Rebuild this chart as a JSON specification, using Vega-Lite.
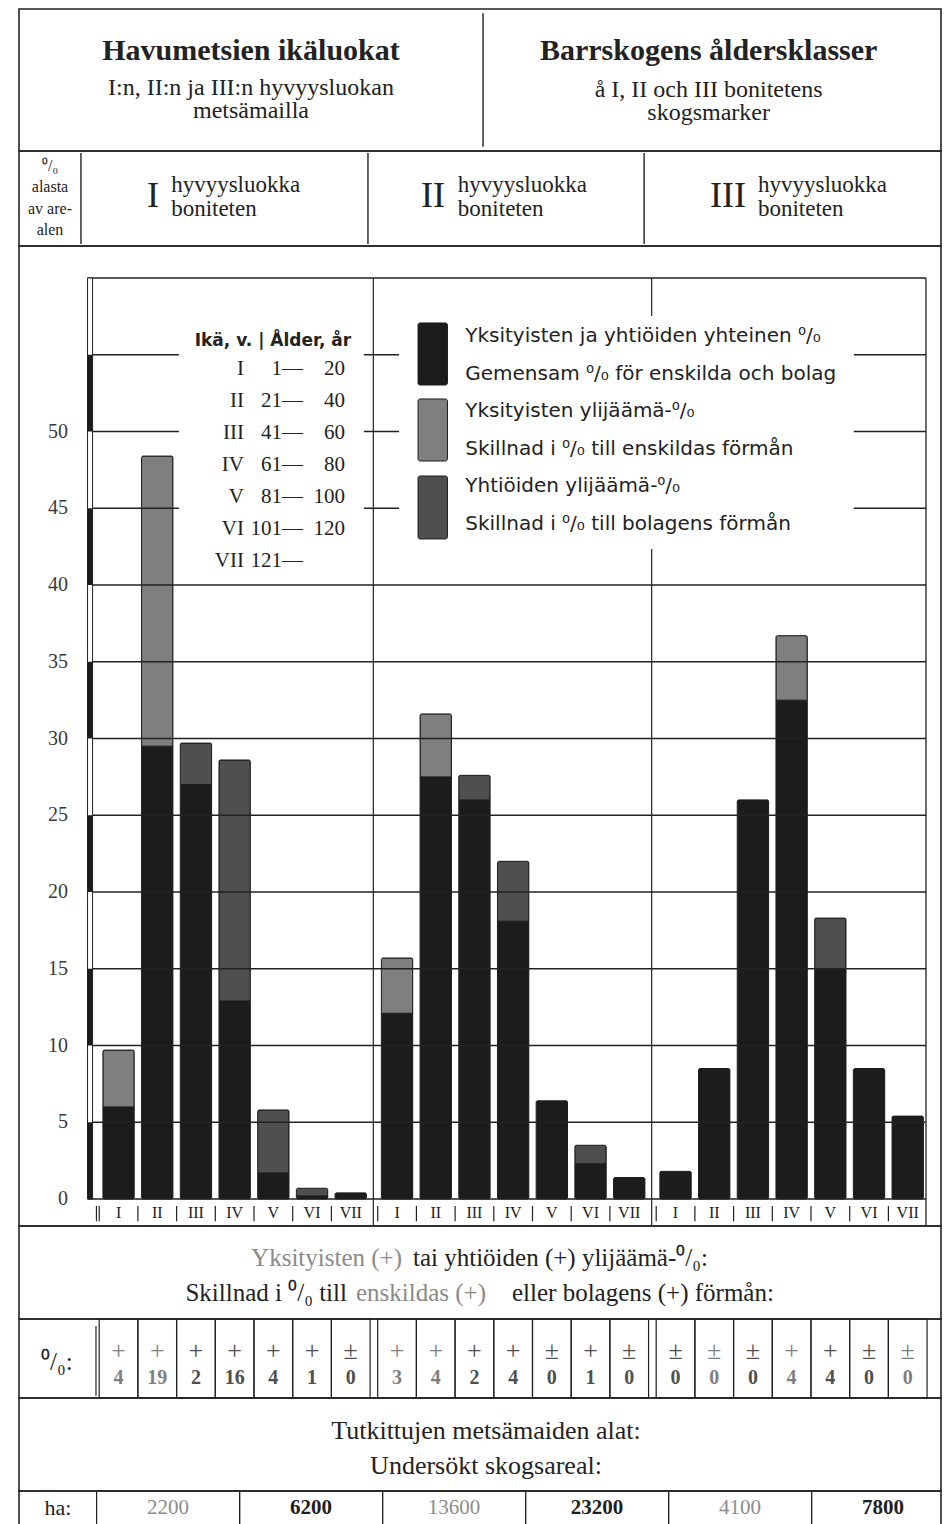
{
  "$schema": "https://vega.github.io/schema/vega-lite/v6.json",
  "background": "#ffffff",
  "padding": {"left": 18, "top": 8, "right": 9, "bottom": 0},
  "spacing": 0,
  "bounds": "flush",
  "data": {"values": [{}]},
  "config": {
    "view": {"stroke": "#222222", "strokeWidth": 1.6},
    "text": {"font": "Liberation Serif", "fill": "#222222"}
  },
  "datasets": {
    "bars": [
      {"grp": "I", "cls": "I", "part": "common", "pct": 6.0},
      {"grp": "I", "cls": "I", "part": "private", "pct": 3.7},
      {"grp": "I", "cls": "II", "part": "common", "pct": 29.5},
      {"grp": "I", "cls": "II", "part": "private", "pct": 18.9},
      {"grp": "I", "cls": "III", "part": "common", "pct": 27.0},
      {"grp": "I", "cls": "III", "part": "company", "pct": 2.7},
      {"grp": "I", "cls": "IV", "part": "common", "pct": 12.9},
      {"grp": "I", "cls": "IV", "part": "company", "pct": 15.7},
      {"grp": "I", "cls": "V", "part": "common", "pct": 1.7},
      {"grp": "I", "cls": "V", "part": "company", "pct": 4.1},
      {"grp": "I", "cls": "VI", "part": "common", "pct": 0.2},
      {"grp": "I", "cls": "VI", "part": "company", "pct": 0.5},
      {"grp": "I", "cls": "VII", "part": "common", "pct": 0.4},
      {"grp": "II", "cls": "I", "part": "common", "pct": 12.1},
      {"grp": "II", "cls": "I", "part": "private", "pct": 3.6},
      {"grp": "II", "cls": "II", "part": "common", "pct": 27.5},
      {"grp": "II", "cls": "II", "part": "private", "pct": 4.1},
      {"grp": "II", "cls": "III", "part": "common", "pct": 26.0},
      {"grp": "II", "cls": "III", "part": "company", "pct": 1.6},
      {"grp": "II", "cls": "IV", "part": "common", "pct": 18.1},
      {"grp": "II", "cls": "IV", "part": "company", "pct": 3.9},
      {"grp": "II", "cls": "V", "part": "common", "pct": 6.4},
      {"grp": "II", "cls": "VI", "part": "common", "pct": 2.3},
      {"grp": "II", "cls": "VI", "part": "company", "pct": 1.2},
      {"grp": "II", "cls": "VII", "part": "common", "pct": 1.4},
      {"grp": "III", "cls": "I", "part": "common", "pct": 1.8},
      {"grp": "III", "cls": "II", "part": "common", "pct": 8.5},
      {"grp": "III", "cls": "III", "part": "common", "pct": 26.0},
      {"grp": "III", "cls": "IV", "part": "common", "pct": 32.5},
      {"grp": "III", "cls": "IV", "part": "private", "pct": 4.2},
      {"grp": "III", "cls": "V", "part": "common", "pct": 15.0},
      {"grp": "III", "cls": "V", "part": "company", "pct": 3.3},
      {"grp": "III", "cls": "VI", "part": "common", "pct": 8.5},
      {"grp": "III", "cls": "VII", "part": "common", "pct": 5.4}
    ],
    "diffs": [
      {"grp": "I", "cls": "I", "sign": "+", "diff": 4, "owner": "private"},
      {"grp": "I", "cls": "II", "sign": "+", "diff": 19, "owner": "private"},
      {"grp": "I", "cls": "III", "sign": "+", "diff": 2, "owner": "company"},
      {"grp": "I", "cls": "IV", "sign": "+", "diff": 16, "owner": "company"},
      {"grp": "I", "cls": "V", "sign": "+", "diff": 4, "owner": "company"},
      {"grp": "I", "cls": "VI", "sign": "+", "diff": 1, "owner": "company"},
      {"grp": "I", "cls": "VII", "sign": "±", "diff": 0, "owner": "company"},
      {"grp": "II", "cls": "I", "sign": "+", "diff": 3, "owner": "private"},
      {"grp": "II", "cls": "II", "sign": "+", "diff": 4, "owner": "private"},
      {"grp": "II", "cls": "III", "sign": "+", "diff": 2, "owner": "company"},
      {"grp": "II", "cls": "IV", "sign": "+", "diff": 4, "owner": "company"},
      {"grp": "II", "cls": "V", "sign": "±", "diff": 0, "owner": "company"},
      {"grp": "II", "cls": "VI", "sign": "+", "diff": 1, "owner": "company"},
      {"grp": "II", "cls": "VII", "sign": "±", "diff": 0, "owner": "company"},
      {"grp": "III", "cls": "I", "sign": "±", "diff": 0, "owner": "company"},
      {"grp": "III", "cls": "II", "sign": "±", "diff": 0, "owner": "private"},
      {"grp": "III", "cls": "III", "sign": "±", "diff": 0, "owner": "company"},
      {"grp": "III", "cls": "IV", "sign": "+", "diff": 4, "owner": "private"},
      {"grp": "III", "cls": "V", "sign": "+", "diff": 4, "owner": "company"},
      {"grp": "III", "cls": "VI", "sign": "±", "diff": 0, "owner": "company"},
      {"grp": "III", "cls": "VII", "sign": "±", "diff": 0, "owner": "private"}
    ],
    "areas": [
      {"grp": "I", "owner": "private", "ha": 2200},
      {"grp": "I", "owner": "company", "ha": 6200},
      {"grp": "II", "owner": "private", "ha": 13600},
      {"grp": "II", "owner": "company", "ha": 23200},
      {"grp": "III", "owner": "private", "ha": 4100},
      {"grp": "III", "owner": "company", "ha": 7800}
    ]
  },
  "vconcat": [
    {
      "width": 922, "height": 142,
      "layer": [
        {"mark": {"type": "rule", "stroke": "#222222", "strokeWidth": 1.4},
         "encoding": {"x": {"datum": 0.5033, "type": "quantitative", "scale": {"domain": [0, 1], "nice": false, "zero": false}, "axis": null},
                      "y": {"datum": 0.03, "type": "quantitative", "scale": {"domain": [0, 1], "nice": false, "zero": false, "reverse": true}, "axis": null},
                      "y2": {"datum": 0.97}}},
        {"mark": {"type": "text", "fontSize": 30, "fontWeight": "bold", "align": "center", "baseline": "middle"},
         "encoding": {"x": {"datum": 0.2516, "type": "quantitative"}, "y": {"datum": 0.296, "type": "quantitative"}, "text": {"value": "Havumetsien ikäluokat"}}},
        {"mark": {"type": "text", "fontSize": 30, "fontWeight": "bold", "align": "center", "baseline": "middle"},
         "encoding": {"x": {"datum": 0.748, "type": "quantitative"}, "y": {"datum": 0.296, "type": "quantitative"}, "text": {"value": "Barrskogens åldersklasser"}}},
        {"mark": {"type": "text", "fontSize": 24, "align": "center", "baseline": "middle", "lineHeight": 23},
         "encoding": {"x": {"datum": 0.2516, "type": "quantitative"}, "y": {"datum": 0.556, "type": "quantitative"}, "text": {"value": ["I:n, II:n ja III:n hyvyysluokan", "metsämailla"]}}},
        {"mark": {"type": "text", "fontSize": 24, "align": "center", "baseline": "middle", "lineHeight": 23},
         "encoding": {"x": {"datum": 0.748, "type": "quantitative"}, "y": {"datum": 0.57, "type": "quantitative"}, "text": {"value": ["å I, II och III bonitetens", "skogsmarker"]}}}
      ]
    },
    {
      "width": 922, "height": 95,
      "layer": [
        {"mark": {"type": "rule", "stroke": "#222222", "strokeWidth": 1.4},
         "encoding": {"x": {"datum": 0.0672, "type": "quantitative", "scale": {"domain": [0, 1], "nice": false, "zero": false}, "axis": null},
                      "y": {"datum": 0.02, "type": "quantitative", "scale": {"domain": [0, 1], "nice": false, "zero": false, "reverse": true}, "axis": null},
                      "y2": {"datum": 0.98}}},
        {"mark": {"type": "rule", "stroke": "#222222", "strokeWidth": 1.4},
         "encoding": {"x": {"datum": 0.3785, "type": "quantitative"}, "y": {"datum": 0.02, "type": "quantitative"}, "y2": {"datum": 0.98}}},
        {"mark": {"type": "rule", "stroke": "#222222", "strokeWidth": 1.4},
         "encoding": {"x": {"datum": 0.678, "type": "quantitative"}, "y": {"datum": 0.02, "type": "quantitative"}, "y2": {"datum": 0.98}}},
        {"mark": {"type": "text", "fontSize": 16, "align": "center", "baseline": "middle", "lineHeight": 21.3},
         "encoding": {"x": {"datum": 0.0336, "type": "quantitative"}, "y": {"datum": 0.158, "type": "quantitative"}, "text": {"value": ["⁰/₀", "alasta", "av are-", "alen"]}}},
        {"mark": {"type": "text", "fontSize": 36, "align": "center", "baseline": "middle"},
         "encoding": {"x": {"datum": 0.1453, "type": "quantitative"}, "y": {"datum": 0.474, "type": "quantitative"}, "text": {"value": "I"}}},
        {"mark": {"type": "text", "fontSize": 36, "align": "center", "baseline": "middle"},
         "encoding": {"x": {"datum": 0.449, "type": "quantitative"}, "y": {"datum": 0.474, "type": "quantitative"}, "text": {"value": "II"}}},
        {"mark": {"type": "text", "fontSize": 36, "align": "center", "baseline": "middle"},
         "encoding": {"x": {"datum": 0.769, "type": "quantitative"}, "y": {"datum": 0.474, "type": "quantitative"}, "text": {"value": "III"}}},
        {"mark": {"type": "text", "fontSize": 23, "align": "left", "baseline": "middle", "lineHeight": 24},
         "encoding": {"x": {"datum": 0.165, "type": "quantitative"}, "y": {"datum": 0.358, "type": "quantitative"}, "text": {"value": ["hyvyysluokka", "boniteten"]}}},
        {"mark": {"type": "text", "fontSize": 23, "align": "left", "baseline": "middle", "lineHeight": 24},
         "encoding": {"x": {"datum": 0.476, "type": "quantitative"}, "y": {"datum": 0.358, "type": "quantitative"}, "text": {"value": ["hyvyysluokka", "boniteten"]}}},
        {"mark": {"type": "text", "fontSize": 23, "align": "left", "baseline": "middle", "lineHeight": 24},
         "encoding": {"x": {"datum": 0.8015, "type": "quantitative"}, "y": {"datum": 0.358, "type": "quantitative"}, "text": {"value": ["hyvyysluokka", "boniteten"]}}}
      ]
    },
    {
      "width": 922, "height": 980,
      "resolve": {"scale": {"x": "independent", "xOffset": "independent"}},
      "layer": [
        {"data": {"name": "bars"},
         "mark": {"type": "bar", "stroke": "#1c1c1c", "strokeWidth": 1, "cornerRadius": 1.5},
         "encoding": {
           "x": {"field": "grp", "type": "nominal", "scale": {"type": "band", "domain": ["I", "II", "III"], "paddingInner": 0.0273, "paddingOuter": 0.169, "align": 0.852}, "axis": null},
           "xOffset": {"field": "cls", "type": "nominal", "scale": {"type": "band", "domain": ["I", "II", "III", "IV", "V", "VI", "VII"], "paddingInner": 0.19, "paddingOuter": 0.095}},
           "y": {"field": "pct", "type": "quantitative", "stack": "zero", "scale": {"domain": [-1.759, 62.085], "nice": false, "zero": false}, "axis": null},
           "color": {"field": "part", "type": "nominal", "scale": {"domain": ["common", "private", "company"], "range": ["#1c1c1c", "#7f7f7f", "#4f4f4f"]}, "legend": null},
           "order": {"field": "part", "sort": "ascending"}
         }},
        {"data": {"values": [{"v": 0}, {"v": 5}, {"v": 10}, {"v": 15}, {"v": 20}, {"v": 25}, {"v": 30}, {"v": 35}, {"v": 40}, {"v": 45}, {"v": 50}, {"v": 55}, {"v": 60}]},
         "mark": {"type": "rule", "stroke": "#222222", "strokeWidth": 1.3},
         "encoding": {"x": {"datum": 0.04, "type": "quantitative", "scale": {"domain": [-1.731, 22.093], "nice": false, "zero": false}, "axis": null},
                      "x2": {"datum": 21.705},
                      "y": {"field": "v", "type": "quantitative", "scale": {"domain": [-1.759, 62.085], "nice": false, "zero": false}, "axis": null}}},
        {"mark": {"type": "rule", "stroke": "#222222", "strokeWidth": 1.2},
         "encoding": {"x": {"datum": 7.424, "type": "quantitative", "scale": {"domain": [-1.731, 22.093], "nice": false, "zero": false}, "axis": null},
                      "y": {"datum": -1.759, "type": "quantitative"}, "y2": {"datum": 60}}},
        {"mark": {"type": "rule", "stroke": "#222222", "strokeWidth": 1.2},
         "encoding": {"x": {"datum": 14.617, "type": "quantitative", "scale": {"domain": [-1.731, 22.093], "nice": false, "zero": false}, "axis": null},
                      "y": {"datum": -1.759, "type": "quantitative"}, "y2": {"datum": 60}}},
        {"mark": {"type": "rule", "stroke": "#222222", "strokeWidth": 1.3},
         "encoding": {"x": {"datum": 21.705, "type": "quantitative", "scale": {"domain": [-1.731, 22.093], "nice": false, "zero": false}, "axis": null},
                      "y": {"datum": -1.759, "type": "quantitative"}, "y2": {"datum": 60}}},
        {"mark": {"type": "rule", "stroke": "#222222", "strokeWidth": 1.2},
         "encoding": {"x": {"datum": 0.27, "type": "quantitative", "scale": {"domain": [-1.731, 22.093], "nice": false, "zero": false}, "axis": null},
                      "y": {"datum": -0.45, "type": "quantitative"}, "y2": {"datum": -1.45}}},
        {"mark": {"type": "rect", "fill": "#ffffff"},
         "encoding": {"x": {"datum": 2.4, "type": "quantitative", "scale": {"domain": [-1.731, 22.093], "nice": false, "zero": false}, "axis": null},
                      "x2": {"datum": 7.18},
                      "y": {"datum": 57.33, "type": "quantitative"}, "y2": {"datum": 40.59}}},
        {"mark": {"type": "rect", "fill": "#ffffff"},
         "encoding": {"x": {"datum": 8.09, "type": "quantitative", "scale": {"domain": [-1.731, 22.093], "nice": false, "zero": false}, "axis": null},
                      "x2": {"datum": 19.84},
                      "y": {"datum": 57.52, "type": "quantitative"}, "y2": {"datum": 42.35}}},
        {"mark": {"type": "rect", "fill": "#ffffff", "stroke": "#222222", "strokeWidth": 1},
         "encoding": {"x": {"datum": 0.04, "type": "quantitative", "scale": {"domain": [-1.731, 22.093], "nice": false, "zero": false}, "axis": null},
                      "x2": {"datum": 0.17},
                      "y": {"datum": 0, "type": "quantitative"}, "y2": {"datum": 60}}},
        {"data": {"values": [{"lo": 0, "hi": 5}, {"lo": 10, "hi": 15}, {"lo": 20, "hi": 25}, {"lo": 30, "hi": 35}, {"lo": 40, "hi": 45}, {"lo": 50, "hi": 55}]},
         "mark": {"type": "rect", "fill": "#1c1c1c"},
         "encoding": {"x": {"datum": 0.04, "type": "quantitative", "scale": {"domain": [-1.731, 22.093], "nice": false, "zero": false}, "axis": null},
                      "x2": {"datum": 0.17},
                      "y": {"field": "lo", "type": "quantitative"}, "y2": {"field": "hi"}}},
        {"data": {"values": [{"v": 0}, {"v": 5}, {"v": 10}, {"v": 15}, {"v": 20}, {"v": 25}, {"v": 30}, {"v": 35}, {"v": 40}, {"v": 45}, {"v": 50}]},
         "mark": {"type": "text", "fontSize": 20, "align": "right", "baseline": "middle", "fill": "#3a3a3a"},
         "encoding": {"x": {"datum": -0.465, "type": "quantitative", "scale": {"domain": [-1.731, 22.093], "nice": false, "zero": false}, "axis": null},
                      "y": {"field": "v", "type": "quantitative"},
                      "text": {"field": "v", "type": "quantitative"}}},
        {"data": {"name": "bars"},
         "transform": [{"filter": "datum.part === 'common'"}],
         "mark": {"type": "text", "fontSize": 16, "align": "center", "baseline": "middle"},
         "encoding": {
           "x": {"field": "grp", "type": "nominal", "scale": {"type": "band", "domain": ["I", "II", "III"], "paddingInner": 0.0273, "paddingOuter": 0.169, "align": 0.852}, "axis": null},
           "xOffset": {"field": "cls", "type": "nominal", "scale": {"type": "band", "domain": ["I", "II", "III", "IV", "V", "VI", "VII"], "paddingInner": 0.19, "paddingOuter": 0.095}},
           "y": {"datum": -0.93, "type": "quantitative"},
           "text": {"field": "cls", "type": "nominal"}
         }},
        {"data": {"name": "bars"},
         "transform": [{"filter": "datum.part === 'common'"}],
         "mark": {"type": "rule", "stroke": "#222222", "strokeWidth": 1.2},
         "encoding": {
           "x": {"field": "grp", "type": "nominal", "scale": {"type": "band", "domain": ["I", "II", "III"], "paddingInner": 0.0273, "paddingOuter": 0.169, "align": 0.6467}, "axis": null},
           "xOffset": {"field": "cls", "type": "nominal", "scale": {"type": "band", "domain": ["I", "II", "III", "IV", "V", "VI", "VII"], "paddingInner": 0.19, "paddingOuter": 0.095}},
           "y": {"datum": -0.45, "type": "quantitative"},
           "y2": {"datum": -1.45}
         }},
        {"mark": {"type": "text", "font": "DejaVu Sans", "fontSize": 17, "fontWeight": "bold", "align": "center", "baseline": "middle"},
         "encoding": {"x": {"datum": 4.83, "type": "quantitative", "scale": {"domain": [-1.731, 22.093], "nice": false, "zero": false}, "axis": null},
                      "y": {"datum": 55.9, "type": "quantitative"},
                      "text": {"value": "Ikä, v. | Ålder, år"}}},
        {"mark": {"type": "text", "fontSize": 21, "align": "right", "baseline": "middle", "lineHeight": 32},
         "encoding": {"x": {"datum": 4.08, "type": "quantitative", "scale": {"domain": [-1.731, 22.093], "nice": false, "zero": false}, "axis": null},
                      "y": {"datum": 54.07, "type": "quantitative"},
                      "text": {"value": ["I", "II", "III", "IV", "V", "VI", "VII"]}}},
        {"mark": {"type": "text", "fontSize": 21, "align": "right", "baseline": "middle", "lineHeight": 32},
         "encoding": {"x": {"datum": 5.61, "type": "quantitative", "scale": {"domain": [-1.731, 22.093], "nice": false, "zero": false}, "axis": null},
                      "y": {"datum": 54.07, "type": "quantitative"},
                      "text": {"value": ["1—", "21—", "41—", "61—", "81—", "101—", "121—"]}}},
        {"mark": {"type": "text", "fontSize": 21, "align": "right", "baseline": "middle", "lineHeight": 32},
         "encoding": {"x": {"datum": 6.69, "type": "quantitative", "scale": {"domain": [-1.731, 22.093], "nice": false, "zero": false}, "axis": null},
                      "y": {"datum": 54.07, "type": "quantitative"},
                      "text": {"value": ["20", "40", "60", "80", "100", "120", ""]}}},
        {"mark": {"type": "rect", "fill": "#1c1c1c", "stroke": "#1c1c1c", "strokeWidth": 1, "cornerRadius": 2},
         "encoding": {"x": {"datum": 8.58, "type": "quantitative", "scale": {"domain": [-1.731, 22.093], "nice": false, "zero": false}, "axis": null},
                      "x2": {"datum": 9.34},
                      "y": {"datum": 57.07, "type": "quantitative"}, "y2": {"datum": 53.03}}},
        {"mark": {"type": "rect", "fill": "#7f7f7f", "stroke": "#1c1c1c", "strokeWidth": 1, "cornerRadius": 2},
         "encoding": {"x": {"datum": 8.58, "type": "quantitative", "scale": {"domain": [-1.731, 22.093], "nice": false, "zero": false}, "axis": null},
                      "x2": {"datum": 9.34},
                      "y": {"datum": 52.12, "type": "quantitative"}, "y2": {"datum": 48.08}}},
        {"mark": {"type": "rect", "fill": "#4f4f4f", "stroke": "#1c1c1c", "strokeWidth": 1, "cornerRadius": 2},
         "encoding": {"x": {"datum": 8.58, "type": "quantitative", "scale": {"domain": [-1.731, 22.093], "nice": false, "zero": false}, "axis": null},
                      "x2": {"datum": 9.34},
                      "y": {"datum": 47.1, "type": "quantitative"}, "y2": {"datum": 43.0}}},
        {"mark": {"type": "text", "font": "DejaVu Sans", "fontSize": 20, "align": "left", "baseline": "middle", "lineHeight": 37.6},
         "encoding": {"x": {"datum": 9.8, "type": "quantitative", "scale": {"domain": [-1.731, 22.093], "nice": false, "zero": false}, "axis": null},
                      "y": {"datum": 56.22, "type": "quantitative"},
                      "text": {"value": ["Yksityisten ja yhtiöiden yhteinen ⁰/₀", "Gemensam ⁰/₀ för enskilda och bolag", "Yksityisten ylijäämä-⁰/₀", "Skillnad i ⁰/₀ till enskildas förmån", "Yhtiöiden ylijäämä-⁰/₀", "Skillnad i ⁰/₀ till bolagens förmån"]}}}
      ]
    },
    {
      "width": 922, "height": 93,
      "layer": [
        {"mark": {"type": "text", "fontSize": 25, "align": "right", "baseline": "middle", "fill": "#8a8a8a"},
         "encoding": {"x": {"datum": 0.4154, "type": "quantitative", "scale": {"domain": [0, 1], "nice": false, "zero": false}, "axis": null},
                      "y": {"datum": 0.344, "type": "quantitative", "scale": {"domain": [0, 1], "nice": false, "zero": false, "reverse": true}, "axis": null},
                      "text": {"value": "Yksityisten (+)"}}},
        {"mark": {"type": "text", "fontSize": 25, "align": "left", "baseline": "middle"},
         "encoding": {"x": {"datum": 0.4273, "type": "quantitative"}, "y": {"datum": 0.344, "type": "quantitative"}, "text": {"value": "tai yhtiöiden (+) ylijäämä-⁰/₀:"}}},
        {"mark": {"type": "text", "fontSize": 25, "align": "right", "baseline": "middle"},
         "encoding": {"x": {"datum": 0.3557, "type": "quantitative"}, "y": {"datum": 0.72, "type": "quantitative"}, "text": {"value": "Skillnad i ⁰/₀ till"}}},
        {"mark": {"type": "text", "fontSize": 25, "align": "left", "baseline": "middle", "fill": "#8a8a8a"},
         "encoding": {"x": {"datum": 0.3655, "type": "quantitative"}, "y": {"datum": 0.72, "type": "quantitative"}, "text": {"value": "enskildas (+)"}}},
        {"mark": {"type": "text", "fontSize": 25, "align": "left", "baseline": "middle"},
         "encoding": {"x": {"datum": 0.5347, "type": "quantitative"}, "y": {"datum": 0.72, "type": "quantitative"}, "text": {"value": "eller bolagens (+) förmån:"}}}
      ]
    },
    {
      "width": 922, "height": 79,
      "resolve": {"scale": {"x": "independent", "xOffset": "independent"}},
      "layer": [
        {"data": {"name": "diffs"},
         "mark": {"type": "bar", "fill": "#ffffff", "fillOpacity": 0, "stroke": "#222222", "strokeWidth": 1.2},
         "encoding": {
           "x": {"field": "grp", "type": "nominal", "scale": {"type": "band", "domain": ["I", "II", "III"], "paddingInner": 0.0273, "paddingOuter": 0.169, "align": 0.852}, "axis": null},
           "xOffset": {"field": "cls", "type": "nominal", "scale": {"type": "band", "domain": ["I", "II", "III", "IV", "V", "VI", "VII"], "paddingInner": 0, "paddingOuter": 0}},
           "y": {"datum": 0, "type": "quantitative", "scale": {"domain": [0, 1], "nice": false, "zero": false, "reverse": true}, "axis": null},
           "y2": {"datum": 1}
         }},
        {"data": {"name": "diffs"},
         "mark": {"type": "text", "fontSize": 26, "align": "center", "baseline": "middle"},
         "encoding": {
           "x": {"field": "grp", "type": "nominal", "scale": {"type": "band", "domain": ["I", "II", "III"], "paddingInner": 0.0273, "paddingOuter": 0.169, "align": 0.852}, "axis": null},
           "xOffset": {"field": "cls", "type": "nominal", "scale": {"type": "band", "domain": ["I", "II", "III", "IV", "V", "VI", "VII"], "paddingInner": 0, "paddingOuter": 0}},
           "y": {"datum": 0.41, "type": "quantitative"},
           "text": {"field": "sign", "type": "nominal"},
           "color": {"field": "owner", "type": "nominal", "scale": {"domain": ["private", "company"], "range": ["#8c8c8c", "#1e1e1e"]}, "legend": null}
         }},
        {"data": {"name": "diffs"},
         "mark": {"type": "text", "fontSize": 20, "fontWeight": "bold", "align": "center", "baseline": "middle"},
         "encoding": {
           "x": {"field": "grp", "type": "nominal", "scale": {"type": "band", "domain": ["I", "II", "III"], "paddingInner": 0.0273, "paddingOuter": 0.169, "align": 0.852}, "axis": null},
           "xOffset": {"field": "cls", "type": "nominal", "scale": {"type": "band", "domain": ["I", "II", "III", "IV", "V", "VI", "VII"], "paddingInner": 0, "paddingOuter": 0}},
           "y": {"datum": 0.75, "type": "quantitative"},
           "text": {"field": "diff", "type": "quantitative"},
           "color": {"field": "owner", "type": "nominal", "scale": {"domain": ["private", "company"], "range": ["#8c8c8c", "#1e1e1e"]}, "legend": null}
         }},
        {"mark": {"type": "text", "fontSize": 25, "align": "center", "baseline": "middle"},
         "encoding": {"x": {"datum": 0.041, "type": "quantitative", "scale": {"domain": [0, 1], "nice": false, "zero": false}, "axis": null},
                      "y": {"datum": 0.55, "type": "quantitative"},
                      "text": {"value": "⁰/₀:"}}},
        {"mark": {"type": "rule", "stroke": "#222222", "strokeWidth": 1.2},
         "encoding": {"x": {"datum": 0.0835, "type": "quantitative", "scale": {"domain": [0, 1], "nice": false, "zero": false}, "axis": null},
                      "y": {"datum": 0.09, "type": "quantitative"}, "y2": {"datum": 0.97}}}
      ]
    },
    {
      "width": 922, "height": 93,
      "layer": [
        {"mark": {"type": "text", "fontSize": 26, "align": "center", "baseline": "middle", "lineHeight": 35},
         "encoding": {"x": {"datum": 0.5065, "type": "quantitative", "scale": {"domain": [0, 1], "nice": false, "zero": false}, "axis": null},
                      "y": {"datum": 0.355, "type": "quantitative", "scale": {"domain": [0, 1], "nice": false, "zero": false, "reverse": true}, "axis": null},
                      "text": {"value": ["Tutkittujen metsämaiden alat:", "Undersökt skogsareal:"]}}}
      ]
    },
    {
      "width": 922, "height": 34,
      "resolve": {"scale": {"x": "independent", "xOffset": "independent"}},
      "layer": [
        {"data": {"name": "areas"},
         "mark": {"type": "bar", "fill": "#ffffff", "fillOpacity": 0, "stroke": "#222222", "strokeWidth": 1.2, "clip": true},
         "encoding": {
           "x": {"field": "grp", "type": "nominal", "scale": {"type": "band", "domain": ["I", "II", "III"], "range": [77.6, 935.6], "paddingInner": 0, "paddingOuter": 0}, "axis": null},
           "xOffset": {"field": "owner", "type": "nominal", "scale": {"type": "band", "domain": ["private", "company"], "paddingInner": 0, "paddingOuter": 0}},
           "y": {"datum": 0, "type": "quantitative", "scale": {"domain": [0, 1], "nice": false, "zero": false, "reverse": true}, "axis": null},
           "y2": {"datum": 1}
         }},
        {"data": {"name": "areas"},
         "transform": [{"filter": "datum.owner === 'private'"}],
         "mark": {"type": "text", "fontSize": 21, "align": "center", "baseline": "middle", "fill": "#8c8c8c"},
         "encoding": {
           "x": {"field": "grp", "type": "nominal", "scale": {"type": "band", "domain": ["I", "II", "III"], "range": [77.6, 935.6], "paddingInner": 0, "paddingOuter": 0}, "axis": null},
           "xOffset": {"field": "owner", "type": "nominal", "scale": {"type": "band", "domain": ["private", "company"], "paddingInner": 0, "paddingOuter": 0}},
           "y": {"datum": 0.5, "type": "quantitative"},
           "text": {"field": "ha", "type": "quantitative", "format": "d"}
         }},
        {"data": {"name": "areas"},
         "transform": [{"filter": "datum.owner === 'company'"}],
         "mark": {"type": "text", "fontSize": 21, "fontWeight": "bold", "align": "center", "baseline": "middle", "fill": "#1e1e1e"},
         "encoding": {
           "x": {"field": "grp", "type": "nominal", "scale": {"type": "band", "domain": ["I", "II", "III"], "range": [77.6, 935.6], "paddingInner": 0, "paddingOuter": 0}, "axis": null},
           "xOffset": {"field": "owner", "type": "nominal", "scale": {"type": "band", "domain": ["private", "company"], "paddingInner": 0, "paddingOuter": 0}},
           "y": {"datum": 0.5, "type": "quantitative"},
           "text": {"field": "ha", "type": "quantitative", "format": "d"}
         }},
        {"mark": {"type": "text", "fontSize": 22, "align": "center", "baseline": "middle"},
         "encoding": {"x": {"datum": 0.0423, "type": "quantitative", "scale": {"domain": [0, 1], "nice": false, "zero": false}, "axis": null},
                      "y": {"datum": 0.5, "type": "quantitative"},
                      "text": {"value": "ha:"}}}
      ]
    }
  ]
}
